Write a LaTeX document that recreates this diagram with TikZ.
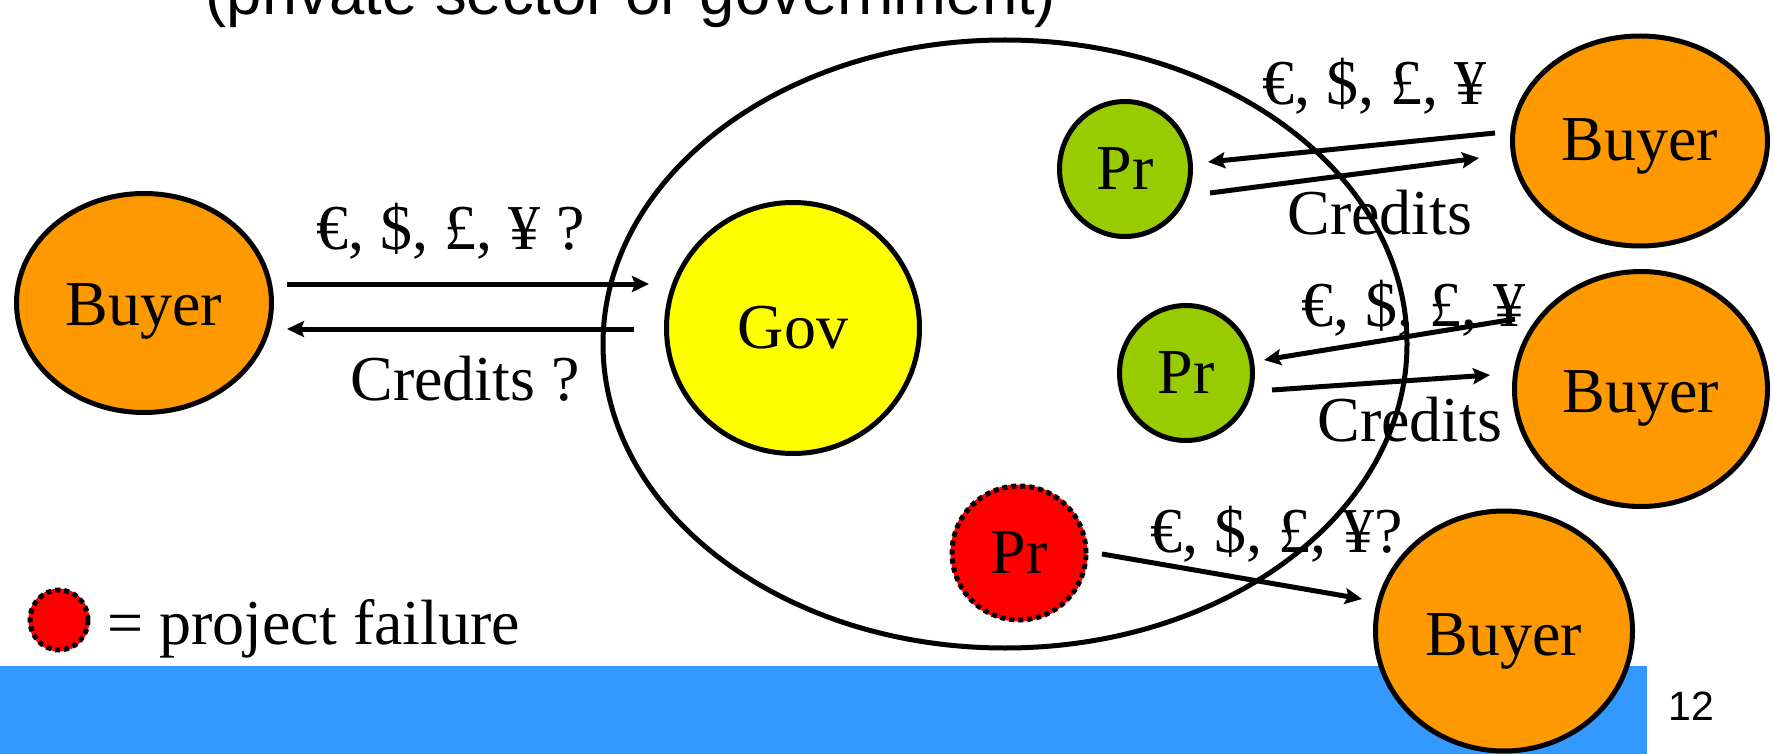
\documentclass[tikz,border=0pt]{standalone}
\usepackage{fontspec}
\setmainfont{Liberation Serif}
\newfontfamily\arialf{Liberation Sans}
\usetikzlibrary{arrows.meta,shapes.geometric}
\definecolor{buyerorange}{RGB}{255,153,0}
\definecolor{govyellow}{RGB}{255,255,0}
\definecolor{prgreen}{RGB}{153,204,0}
\definecolor{barblue}{RGB}{51,153,255}
\newcommand{\bigfont}{\fontsize{64}{72}\selectfont}
\tikzset{
  circ/.style={ellipse, draw=black, line width=5pt, inner sep=0pt, font=\bigfont},
  buyer/.style={circ, fill=buyerorange, text height=44pt, text depth=0pt},
  gov/.style={circ, fill=govyellow},
  prok/.style={circ, fill=prgreen},
  prfail/.style={ellipse, inner sep=0pt, font=\bigfont, fill=red, draw=black, line width=5pt,
     dash pattern=on 5pt off 4pt, preaction={draw=red, line width=3pt, solid}},
  arr/.style={line width=5pt, -{Stealth[length=17pt,width=16pt,inset=3pt]}},
  lbl/.style={anchor=base, inner sep=0pt, font=\bigfont},
}
\begin{document}
\begin{tikzpicture}[x=1pt,y=-1pt]
\useasboundingbox (0,0) rectangle (1773,754);
% title fragment
\node[anchor=base, inner sep=0pt, font=\arialf\fontsize{63.5}{70}\selectfont] (title) at (631,15) {(private sector or government)};
% blue bar
\fill[barblue] (0,666) rectangle (1647,754);
\node[anchor=base, inner sep=0pt, font=\arialf\fontsize{41}{48}\selectfont] (pagenum) at (1691,720) {12};
% big ellipse
\draw[line width=5pt] (1005,344) ellipse [x radius=402, y radius=304];
% nodes
\node[buyer, minimum width=255pt, minimum height=219pt] (buyerL) at (144,303) {Buyer};
\node[gov, minimum width=253pt, minimum height=251pt] (gov) at (793,328) {Gov};
\node[prok, minimum width=131pt, minimum height=135pt] (pr1) at (1125,169) {Pr};
\node[prok, minimum width=133pt, minimum height=135pt] (pr2) at (1186,373) {Pr};
\node[prfail, minimum width=134pt, minimum height=134pt] (pr3) at (1019,553) {Pr};
\node[buyer, minimum width=255pt, minimum height=210pt, text height=40pt] (buyerT) at (1640,141) {Buyer};
\node[buyer, minimum width=253pt, minimum height=235pt, text height=46pt] (buyerM) at (1641,389) {Buyer};
\node[buyer, minimum width=257pt, minimum height=240pt, text height=48pt] (buyerB) at (1504,631) {Buyer};
% legend
\node[prfail, minimum width=58pt, minimum height=60pt] (legend) at (59,620) {};
\node[anchor=base west, inner sep=0pt, font=\bigfont] (legendtxt) at (107,644) {= project failure};
% arrow endpoints
\coordinate (aLs) at (287,284); \coordinate (aLe) at (649,284);
\coordinate (bLs) at (634,329); \coordinate (bLe) at (287,329);
\coordinate (aTs) at (1495,133); \coordinate (aTe) at (1208,162);
\coordinate (bTs) at (1210,193); \coordinate (bTe) at (1479,158);
\coordinate (aMs) at (1515,319); \coordinate (aMe) at (1264,360);
\coordinate (bMs) at (1272,390); \coordinate (bMe) at (1490,375);
\coordinate (aBs) at (1102,554); \coordinate (aBe) at (1362,599);
% arrows
\draw[arr] (aLs) -- (aLe);
\draw[arr] (bLs) -- (bLe);
\draw[arr] (aTs) -- (aTe);
\draw[arr] (bTs) -- (bTe);
\draw[arr] (aMs) -- (aMe);
\draw[arr] (bMs) -- (bMe);
\draw[arr] (aBs) -- (aBe);
% labels
\node[lbl] (mL) at (451,250) {€, \$, £, ¥ ?};
\node[lbl] (cL) at (465,400) {Credits ?};
\node[lbl] (mT) at (1374,105) {€, \$, £, ¥};
\node[lbl] (cT) at (1380,235) {Credits};
\node[lbl] (mM) at (1413,326) {€, \$, £, ¥};
\node[lbl] (cM) at (1410,441) {Credits};
\node[lbl] (mB) at (1277,552) {€, \$, £, ¥?};
\end{tikzpicture}
\end{document}
